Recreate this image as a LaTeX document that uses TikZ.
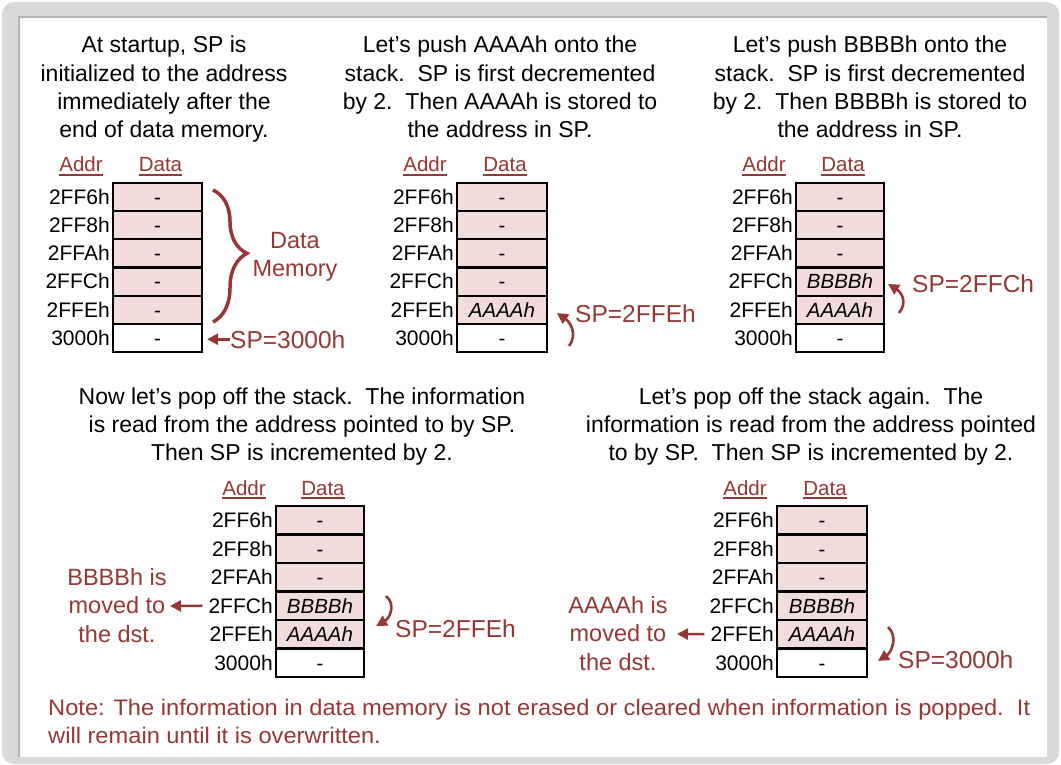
\documentclass[tikz,border=0pt]{standalone}
\usepackage{fontspec}
\usepackage{graphicx}
\setmainfont{Liberation Sans}
\usetikzlibrary{arrows.meta,decorations.pathreplacing,calc}
\definecolor{dred}{HTML}{953735}
\definecolor{pinkc}{HTML}{F2DCDB}
\definecolor{frameg}{HTML}{D9D9D9}
\newsavebox\ulbox
\newcommand\ulined[1]{\sbox\ulbox{#1}\rlap{\color{dred}\rule[-3.5pt]{\wd\ulbox}{1.5pt}}\usebox\ulbox}
\newcommand\ctab[1]{\begin{tabular}[t]{@{}c@{}}#1\end{tabular}}
\tikzset{
 cell/.style={draw=black, line width=2.2pt, inner sep=0pt, text height=14.6pt, text depth=0pt, font=\fontsize{20.5}{24}\selectfont},
 addr/.style={anchor=east, inner sep=0pt, text height=14.8pt, text depth=0pt, font=\fontsize{21}{24}\selectfont, xshift=-2pt},
 hdr/.style={anchor=base, inner sep=0pt, text=dred, font=\fontsize{20.5}{24}\selectfont},
 body/.style={anchor=base, inner sep=0pt, font=\fontsize{23}{28.3}\selectfont},
 rlab/.style={anchor=base, inner sep=0pt, text=dred, font=\fontsize{23.5}{28.5}\selectfont},
 splab/.style={anchor=base west, inner sep=0pt, text=dred, font=\fontsize{24.5}{28}\selectfont},
 rarrow/.style={draw=dred, line width=2.6pt, -{Triangle[length=11pt,width=11pt]}},
}
\newcommand\memtable[7]{%
  \foreach \a/\d [count=\i] in {2FF6h/-,2FF8h/-,2FFAh/-,2FFCh/{#6},2FFEh/{#7},3000h/-}{
    \ifnum\i=6 \def\cf{white}\else\def\cf{pinkc}\fi
    \node[cell, fill=\cf, minimum width=#4pt, minimum height=#5pt] (#1r\i) at ({#2+#4/2}, {#3+(\i-0.5)*#5}) {\d};
    \node[addr] (#1a\i) at (#1r\i.west) {\a};
  }
  \node[hdr] (#1ha) at ({#2-32}, {#3-11}) {\ulined{Addr}};
  \node[hdr] (#1hd) at ({#2+#4/2+3}, {#3-11}) {\ulined{Data}};
}
\begin{document}
\begin{tikzpicture}[x=1pt,y=-1pt]
\useasboundingbox (0,0) rectangle (1061,765);
% frame
\fill[frameg, rounded corners=12pt] (2,2) rectangle (1059,764);
\fill[white] (18,17) rectangle (1047,757);
\draw[gray!60, line width=2pt] (18.5,757) -- (18.5,17.5) -- (1047,17.5);

% texts
\node[body] (txa) at (164,53) {\ctab{At startup, SP is\\initialized to the address\\immediately after the\\end of data memory.}};
\node[body] (txb) at (500,53) {\ctab{Let’s push AAAAh onto the\\stack.\ \ SP is first decremented\\by 2.\ \ Then AAAAh is stored to\\the address in SP.}};
\node[body] (txc) at (870,53) {\ctab{Let’s push BBBBh onto the\\stack.\ \ SP is first decremented\\by 2.\ \ Then BBBBh is stored to\\the address in SP.}};
\node[body] (txd) at (302,404) {\ctab{Now let’s pop off the stack.\ \ The information\\is read from the address pointed to by SP.\\Then SP is incremented by 2.}};
\node[body] (txe) at (811,404) {\ctab{Let’s pop off the stack again.\ \ The\\information is read from the address pointed\\to by SP.\ \ Then SP is incremented by 2.}};

% tables
\memtable{ta}{113}{183}{89}{28.17}{-}{-}
\memtable{tb}{457}{183}{90}{28.17}{-}{\textit{AAAAh}}
\memtable{tc}{796}{183}{88}{28.17}{\textit{BBBBh}}{\textit{AAAAh}}
\memtable{td}{276}{506}{88}{28.5}{\textit{BBBBh}}{\textit{AAAAh}}
\memtable{te}{777}{506}{90}{28.5}{\textit{BBBBh}}{\textit{AAAAh}}

% panel 1
\coordinate (bt) at (213,190);
\coordinate (bb) at (213,322);
\draw[dred, line width=3.5pt, decorate, decoration={brace, amplitude=34pt, aspect=0.48}] (bt) -- (bb);
\node[rlab] (dm) at (295,248) {\ctab{Data\\Memory}};
\node[splab] (spa) at (230,348) {SP=3000h};
\draw[rarrow, shorten >=4pt] (spa.west) -- (spa.west -| tar6.east);

% panel 2
\node[splab] (spb) at (575,322) {SP=2FFEh};
\coordinate (cb0) at (569,346);
\coordinate (cb1) at (557,313);
\draw[rarrow] (cb0) .. controls (578,334) and (570,322) .. (cb1);

% panel 3
\node[splab] (spc) at (912,292) {SP=2FFCh};
\coordinate (cc0) at (899,313);
\coordinate (cc1) at (888,284);
\draw[rarrow] (cc0) .. controls (908,302) and (901,292) .. (cc1);

% panel 4
\node[rlab] (lbd) at (117,585) {\ctab{BBBBh is\\moved to\\the dst.}};
\coordinate (dd) at (170,606);
\draw[rarrow, shorten <=6pt] (tda4.west) -- (dd);
\node[splab] (spd) at (395,637) {SP=2FFEh};
\coordinate (cd0) at (386,596);
\coordinate (cd1) at (376,626);
\draw[rarrow] (cd0) .. controls (396,604) and (390,618) .. (cd1);

% panel 5
\node[rlab] (lbe) at (618,613) {\ctab{AAAAh is\\moved to\\the dst.}};
\coordinate (ee) at (677,634);
\draw[rarrow, shorten <=6pt] (tea5.west) -- (ee);
\node[splab] (spe) at (898,668) {SP=3000h};
\coordinate (ce0) at (888,627);
\coordinate (ce1) at (878,661);
\draw[rarrow] (ce0) .. controls (898,636) and (892,652) .. (ce1);

% note
\node[anchor=base west, inner sep=0pt, text=dred] (note) at (48,715) {\resizebox{982pt}{\height}{\fontsize{22.5}{28}\selectfont\begin{tabular}[t]{@{}l@{}}Note: The information in data memory is not erased or cleared when information is popped.\ \ It\\will remain until it is overwritten.\end{tabular}}};
\end{tikzpicture}
\end{document}
